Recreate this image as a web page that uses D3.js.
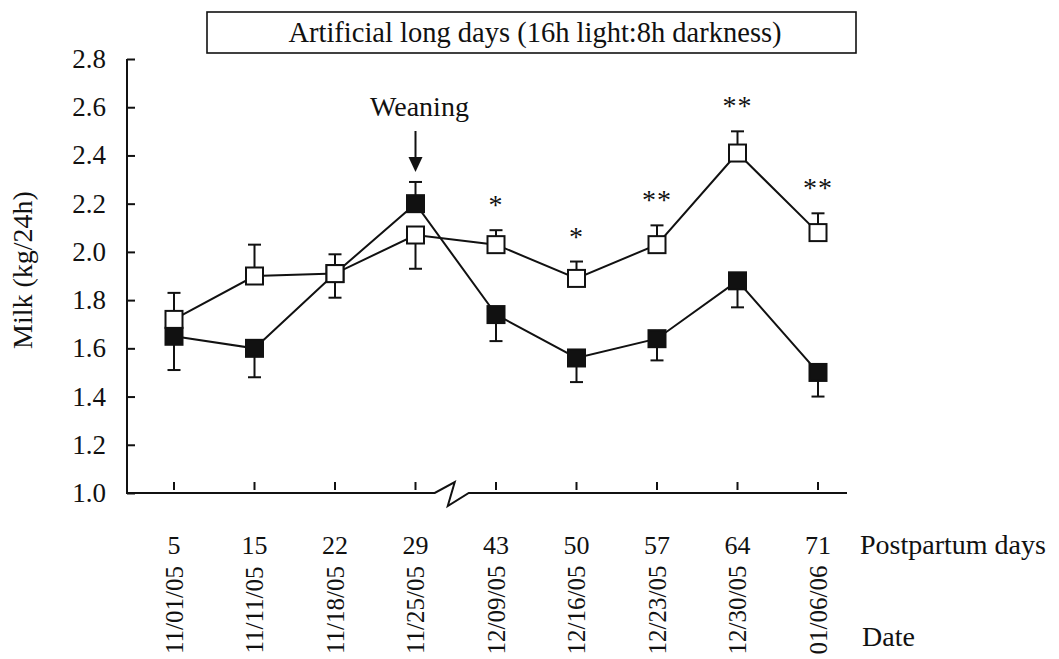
<!DOCTYPE html>
<html>
<head>
<meta charset="utf-8">
<script src="https://cdn.jsdelivr.net/npm/d3@7"></script>
<style>
  html, body { margin: 0; padding: 0; background: #fff; }
  svg { display: block; }
  text { font-family: "Liberation Serif", "Times New Roman", serif; fill: #111; }
</style>
</head>
<body>
<svg id="chart" width="1059" height="659"></svg>
<script>
// ---- data ----
const days = ["5", "15", "22", "29", "43", "50", "57", "64", "71"];
const dates = ["11/01/05", "11/11/05", "11/18/05", "11/25/05", "12/09/05", "12/16/05", "12/23/05", "12/30/05", "01/06/06"];
const openMean = [1.72, 1.90, 1.91, 2.07, 2.03, 1.89, 2.03, 2.41, 2.08];
const openErr = [0.11, 0.13, 0.08, 0.14, 0.06, 0.07, 0.08, 0.09, 0.08];
const openErrDir = [1, 1, 1, -1, 1, 1, 1, 1, 1];
const filledMean = [1.65, 1.60, 1.91, 2.20, 1.74, 1.56, 1.64, 1.88, 1.50];
const filledErr = [0.14, 0.12, 0.10, 0.09, 0.11, 0.10, 0.09, 0.11, 0.10];
const filledErrDir = [-1, -1, -1, 1, -1, -1, -1, -1, -1];
const signif = ["", "", "", "", "*", "*", "**", "**", "**"];
const yTicks = [1.0, 1.2, 1.4, 1.6, 1.8, 2.0, 2.2, 2.4, 2.6, 2.8];
const titleText = "Artificial long days (16h light:8h darkness)";
const yLabel = "Milk (kg/24h)";
const weaningLabel = "Weaning";
const weaningDay = "29";

// ---- layout ----
const svg = d3.select("#chart");
const x = d3.scalePoint().domain(days).range([174, 818]);
const y = d3.scaleLinear().domain([1.0, 2.8]).range([493, 59]);
const axisX0 = 127, axisX1 = 847;
const baseY = y(1.0);
const ink = "#111";

// title box
svg.append("rect").attr("x", 207).attr("y", 12).attr("width", 649).attr("height", 41)
  .attr("fill", "none").attr("stroke", ink).attr("stroke-width", 1.6);
svg.append("text").attr("x", 535).attr("y", 42).attr("text-anchor", "middle")
  .attr("font-size", 28.5).text(titleText);

// y axis
const yAxisG = svg.append("g").attr("transform", `translate(${axisX0},0)`)
  .call(d3.axisRight(y).tickValues(yTicks).tickSize(8).tickFormat(""));
yAxisG.select(".domain").remove();
yAxisG.selectAll(".tick line").attr("stroke", ink).attr("stroke-width", 2);
svg.append("line").attr("x1", axisX0).attr("x2", axisX0).attr("y1", y(2.8)).attr("y2", baseY + 1)
  .attr("stroke", ink).attr("stroke-width", 2);
svg.selectAll(".ylab").data(yTicks).enter().append("text")
  .attr("class", "ylab").attr("x", 106).attr("y", d => y(d) + 9)
  .attr("text-anchor", "end").attr("font-size", 27).text(d => d.toFixed(1));
svg.append("text").attr("transform", `translate(32,${270}) rotate(-90)`)
  .attr("text-anchor", "middle").attr("font-size", 28).text(yLabel);

// x axis with break
const brk = (x("29") + x("43")) / 2;
const axisPath = d3.path();
axisPath.moveTo(axisX0, baseY);
axisPath.lineTo(brk - 21, baseY);
axisPath.lineTo(brk - 1, baseY - 11);
axisPath.lineTo(brk - 8, baseY + 13);
axisPath.lineTo(brk + 13, baseY);
axisPath.lineTo(axisX1, baseY);
svg.append("path").attr("d", axisPath.toString()).attr("fill", "none")
  .attr("stroke", ink).attr("stroke-width", 2).attr("stroke-linejoin", "miter");
svg.selectAll(".xtick").data(days).enter().append("line")
  .attr("x1", d => x(d)).attr("x2", d => x(d))
  .attr("y1", baseY - 11).attr("y2", baseY - 3)
  .attr("stroke", ink).attr("stroke-width", 2);
svg.selectAll(".xlab").data(days).enter().append("text")
  .attr("x", d => x(d)).attr("y", 554).attr("text-anchor", "middle")
  .attr("font-size", 26).text(d => d);
svg.selectAll(".dlab").data(dates).enter().append("text")
  .attr("transform", (d, i) => `translate(${x(days[i]) + 8.5},${610}) rotate(-90)`)
  .attr("text-anchor", "middle").attr("font-size", 25).text(d => d);
svg.append("text").attr("x", 860).attr("y", 554).attr("font-size", 28).text("Postpartum days");
svg.append("text").attr("x", 862).attr("y", 646).attr("font-size", 28).text("Date");

// lines
const lineGen = d3.line().x((d, i) => x(days[i])).y(d => y(d));
svg.append("path").datum(filledMean).attr("d", lineGen).attr("fill", "none")
  .attr("stroke", ink).attr("stroke-width", 2);
svg.append("path").datum(openMean).attr("d", lineGen).attr("fill", "none")
  .attr("stroke", ink).attr("stroke-width", 2);

// error bars
function errBars(means, errs, dirs, cls) {
  const g = svg.append("g").attr("class", cls);
  means.forEach((m, i) => {
    const cx = x(days[i]);
    const yEnd = y(m + dirs[i] * errs[i]);
    g.append("line").attr("x1", cx).attr("x2", cx).attr("y1", y(m)).attr("y2", yEnd)
      .attr("stroke", ink).attr("stroke-width", 2);
    g.append("line").attr("x1", cx - 6.5).attr("x2", cx + 6.5).attr("y1", yEnd).attr("y2", yEnd)
      .attr("stroke", ink).attr("stroke-width", 2);
  });
}
errBars(filledMean, filledErr, filledErrDir, "ferr");
errBars(openMean, openErr, openErrDir, "oerr");

// markers
const sz = 17;
svg.selectAll(".fm").data(filledMean).enter().append("rect")
  .attr("x", (d, i) => x(days[i]) - sz / 2).attr("y", d => y(d) - sz / 2)
  .attr("width", sz).attr("height", sz).attr("fill", ink).attr("stroke", ink).attr("stroke-width", 2);
svg.selectAll(".om").data(openMean).enter().append("rect")
  .attr("x", (d, i) => x(days[i]) - sz / 2).attr("y", d => y(d) - sz / 2)
  .attr("width", sz).attr("height", sz).attr("fill", "#fff").attr("stroke", ink).attr("stroke-width", 2);

// significance marks
svg.selectAll(".sig").data(signif).enter().append("text")
  .attr("x", (d, i) => x(days[i])).attr("y", (d, i) => y(openMean[i] + openErr[i]) - 16)
  .attr("text-anchor", "middle").attr("font-size", 28).attr("letter-spacing", 1).text(d => d);

// weaning annotation
const wx = x(weaningDay);
svg.append("text").attr("x", wx + 4).attr("y", 116).attr("text-anchor", "middle")
  .attr("font-size", 28).text(weaningLabel);
svg.append("line").attr("x1", wx).attr("x2", wx).attr("y1", 131).attr("y2", 160)
  .attr("stroke", ink).attr("stroke-width", 2);
svg.append("path").attr("d", `M${wx - 7},${157} L${wx + 7},${157} L${wx},${172} Z`).attr("fill", ink);
</script>
</body>
</html>
